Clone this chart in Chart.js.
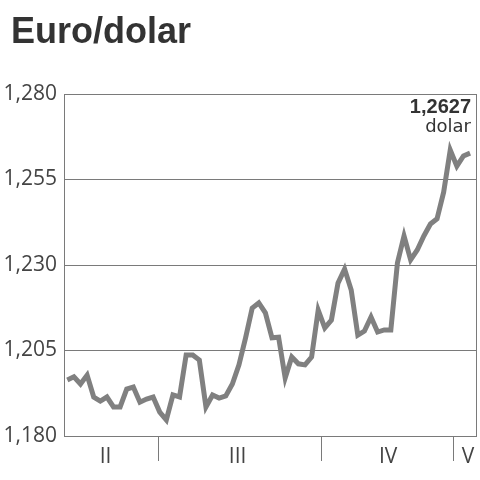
<!DOCTYPE html>
<html>
<head>
<meta charset="utf-8">
<script src="https://cdn.jsdelivr.net/npm/chart.js@4/dist/chart.umd.min.js"></script>
<style>
	html, body { margin: 0; padding: 0; background: #fff; }
</style>
</head>
<body>
<canvas id="euroChart" width="480" height="480"></canvas>
<script>

	// EUR/USD, daily sessions (Feb - early May)
	var rates = [
		1.1964, 1.1973, 1.1952, 1.1978, 1.1914, 1.1902, 1.1914, 1.1885, 1.1885, 1.1937,
		1.1943, 1.1899, 1.1908, 1.1914, 1.1870, 1.1847, 1.1920, 1.1914, 1.2037, 1.2037,
		1.2022, 1.1885, 1.1920, 1.1911, 1.1917, 1.1952, 1.2008, 1.2087, 1.2174, 1.2189,
		1.2160, 1.2087, 1.2089, 1.1970, 1.2031, 1.2011, 1.2008, 1.2031, 1.2168, 1.2116,
		1.2139, 1.2247, 1.2288, 1.2227, 1.2095, 1.2107, 1.2148, 1.2104, 1.2110, 1.2110,
		1.2306, 1.2385, 1.2315, 1.2344, 1.2385, 1.2420, 1.2435, 1.2513, 1.2636, 1.2589,
		1.2619, 1.2627
	];

	// Months (roman numerals) and where they start/end, in session units
	var monthLabels = ['II', 'III', 'IV', 'V'];
	var monthLabelAt = [5.8, 25.8, 48.6, 60.7];
	var monthBreaks = [13.8, 38.5, 58.5];

	var yTicks = [1.180, 1.205, 1.230, 1.255, 1.280];
	var chartTitle = 'Euro/dolar';
	var unitLabel = 'dolar';

	var GRID = '#7a7a7a';
	var TEXT = '#444';

	/**
	 * Title (top left) and last value (top right corner of the plot)
	 */
	var textPlugin = {
		id: 'texts',
		afterDraw: function (chart) {
			var ctx = chart.ctx;
			var area = chart.chartArea;
			var last = rates[rates.length - 1];
			ctx.save();
			ctx.fillStyle = '#333';
			ctx.textBaseline = 'alphabetic';
			// Title
			ctx.textAlign = 'left';
			ctx.font = 'bold 36px "Liberation Sans"';
			ctx.fillText(chartTitle, 11, 43);
			// Last value
			ctx.textAlign = 'right';
			ctx.font = 'bold 20px "Liberation Sans"';
			ctx.fillText(last.toFixed(4).replace('.', ','), area.right - 5, area.top + 19);
			ctx.font = '18px "DejaVu Sans"';
			ctx.fillText(unitLabel, area.right - 5, area.top + 38);
			ctx.restore();
		}
	};

	var points = rates.map(function (v, i) {
		return {x: i, y: v};
	});

	var chartData = {
		type: 'line',
		data: {
			datasets: [
				{
					data: points,
					borderColor: '#808080',
					borderWidth: 5,
					pointRadius: 0,
					tension: 0
				}
			]
		},
		options: {
			responsive: false,
			animation: false,
			devicePixelRatio: 1,
			layout: {
				padding: {left: 2, right: 4, top: 94, bottom: 0}
			},
			plugins: {
				legend: {display: false},
				tooltip: {enabled: false},
				title: {display: false}
			},
			scales: {
				x: {
					type: 'linear',
					min: -0.5,
					max: 61.9,
					afterBuildTicks: function (scale) {
						scale.ticks = monthBreaks.concat(monthLabelAt).map(function (v) {
							return {value: v};
						});
					},
					afterFit: function (scale) {
						scale.height = 44;
					},
					ticks: {
						autoSkip: false,
						maxRotation: 0,
						padding: -17,
						color: TEXT,
						font: {family: '"Open Sans", sans-serif', size: 21},
						callback: function (value) {
							var idx = monthLabelAt.indexOf(value);
							return idx >= 0 ? monthLabels[idx] : '';
						}
					},
					grid: {
						drawOnChartArea: false,
						tickLength: 25,
						lineWidth: 1,
						color: function (context) {
							if (context.tick && monthBreaks.indexOf(context.tick.value) >= 0) {
								return GRID;
							}
							return 'rgba(0,0,0,0)';
						}
					},
					border: {color: GRID, width: 1}
				},
				y: {
					min: 1.18,
					max: 1.28,
					afterBuildTicks: function (scale) {
						scale.ticks = yTicks.map(function (v) {
							return {value: v};
						});
					},
					afterFit: function (scale) {
						scale.width = 62;
					},
					ticks: {
						padding: 7,
						color: TEXT,
						font: {family: '"Open Sans", sans-serif', size: 21},
						callback: function (value) {
							return value.toFixed(3).replace('.', ',');
						}
					},
					grid: {color: GRID, lineWidth: 1, drawTicks: false},
					border: {color: GRID, width: 1}
				},
				y2: {
					position: 'right',
					min: 1.18,
					max: 1.28,
					ticks: {display: false},
					grid: {display: false, drawTicks: false},
					border: {color: GRID, width: 1},
					afterFit: function (scale) {
						scale.width = 0;
					}
				}
			}
		},
		plugins: [textPlugin]
	};

	var euroChart = new Chart(document.getElementById('euroChart'), chartData);
</script>
</body>
</html>
